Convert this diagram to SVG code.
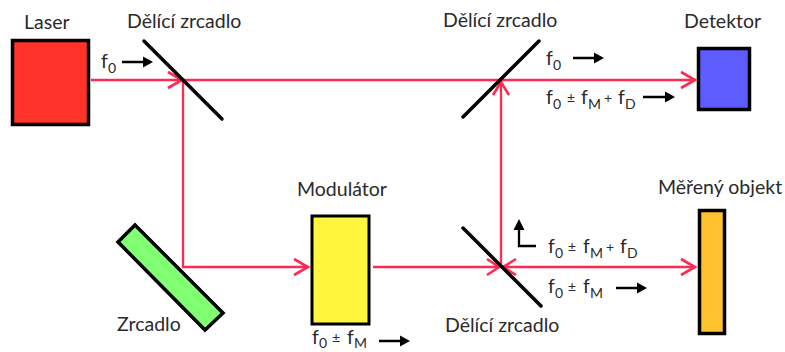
<svg xmlns="http://www.w3.org/2000/svg" width="785" height="352" viewBox="0 0 785 352">
<style>
text{font-family:Lato,"Liberation Sans",sans-serif;font-size:19.500px;fill:#2a2a2a}
.sub{font-size:14px}
.op{font-size:14px}
.box{stroke:#000;stroke-width:3.500}
.mirror{stroke:#000;stroke-width:3.500;stroke-linecap:round;fill:none}
.beam{stroke:#ff2a52;stroke-width:2.300;fill:none}
.head{stroke:#ff2a52;stroke-width:2.600;fill:none}
.dir{stroke:#000;stroke-width:2.300;fill:none}
.tip{fill:#000;stroke:none}
</style>
<rect width="785" height="352" fill="#fff"/>
<g id="connectors">
<path class="beam" d="M91 80H695M183 80V267H308M373 267H695M501 267V81"/>
<path class="head" d="M168 72L182 80L168 88M294 259L308 267L294 275M487 259L499 267L487 275M516 259L503 267L516 275M681 259L695 267L681 275M681 72L695 80L681 88M493 95L501 82L509 95"/>
</g>
<g id="laser"><rect class="box" x="12.500" y="40.500" width="76" height="84" fill="#ff3329"/><text x="24" y="29">Laser</text></g>
<g id="splitter-1"><path class="mirror" d="M144 41L222 119"/><text x="127" y="28">Dělící zrcadlo</text></g>
<g id="splitter-2"><path class="mirror" d="M539 41L463 117"/><text x="443" y="27">Dělící zrcadlo</text></g>
<g id="splitter-3"><path class="mirror" d="M463 228L541 306"/><text x="445" y="332">Dělící zrcadlo</text></g>
<g id="mirror"><polygon class="box" points="135,225 118,242 205,330 223,313" fill="#80ff73"/><text x="117" y="331">Zrcadlo</text></g>
<g id="modulator"><rect x="312" y="216" width="57" height="108" fill="#fff53d" stroke="#000" stroke-width="3"/><text x="297" y="196">Modulátor</text></g>
<g id="detector"><rect class="box" x="698.500" y="48.500" width="51" height="61" fill="#5f5cff"/><text x="684" y="28">Detektor</text></g>
<g id="object"><rect class="box" x="699.500" y="210.500" width="25" height="123" fill="#ffc22e"/><text x="658" y="194">Měřený objekt</text></g>
<g id="labels">
<text x="101" y="68">f<tspan class="sub" x="108" dy="5">0</tspan></text>
<text x="546" y="65">f<tspan class="sub" x="553" dy="5">0</tspan></text>
<text x="546" y="104">f<tspan class="sub" x="553" dy="5">0</tspan><tspan class="op" x="567" dy="-6">±</tspan><tspan x="581" dy="1">f</tspan><tspan class="sub" x="588" dy="5">M</tspan><tspan class="op" x="604" dy="-6">+</tspan><tspan x="618" dy="1">f</tspan><tspan class="sub" x="625" dy="5">D</tspan></text>
<text x="548" y="253">f<tspan class="sub" x="555" dy="5">0</tspan><tspan class="op" x="568" dy="-6">±</tspan><tspan x="583" dy="1">f</tspan><tspan class="sub" x="590" dy="5">M</tspan><tspan class="op" x="606" dy="-6">+</tspan><tspan x="620" dy="1">f</tspan><tspan class="sub" x="627" dy="5">D</tspan></text>
<text x="548" y="293">f<tspan class="sub" x="555" dy="5">0</tspan><tspan class="op" x="568" dy="-6">±</tspan><tspan x="583" dy="1">f</tspan><tspan class="sub" x="590" dy="5">M</tspan></text>
<text x="312" y="344">f<tspan class="sub" x="319" dy="4">0</tspan><tspan class="op" x="332" dy="-5">±</tspan><tspan x="347" dy="1">f</tspan><tspan class="sub" x="354" dy="4">M</tspan></text>
</g>
<g id="direction-arrows">
<path class="dir" d="M122 62H144M573 58H595M643 97H666M616 288H638M379 341H401M519 222V246H536"/>
<path class="tip" d="M153 62L143 56.500V67.500ZM604 58L594 52.500V63.500ZM675 97L665 91.500V102.500ZM647 288L637 282.500V293.500ZM410 341L400 335.500V346.500ZM519 219L513.500 230H524.500Z"/>
</g>
</svg>
